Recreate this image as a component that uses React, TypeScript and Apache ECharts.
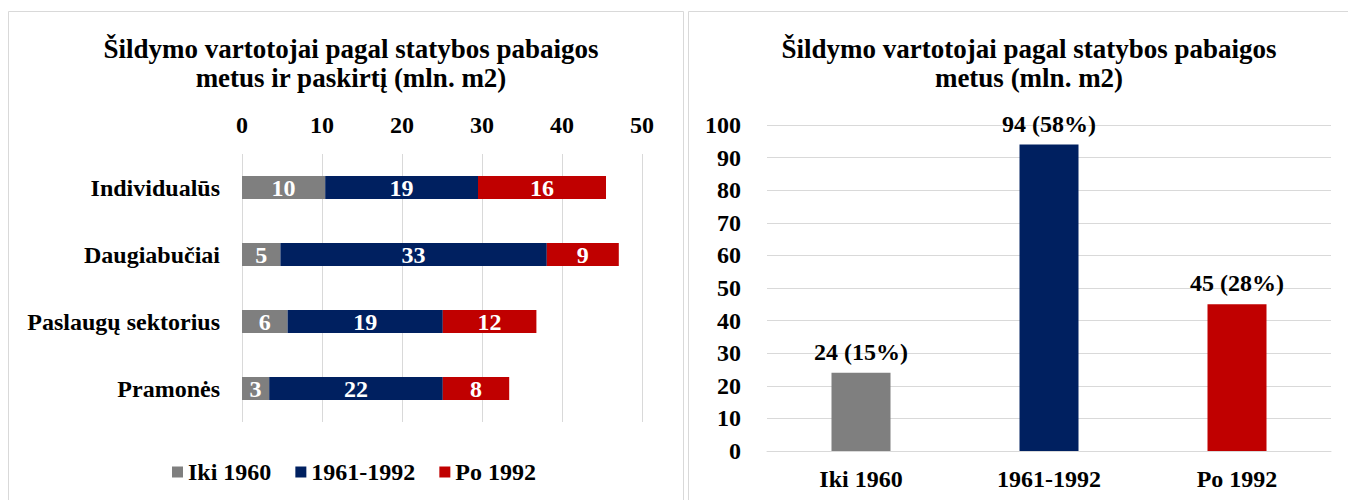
import React, { useEffect, useRef } from "react";
import * as echarts from "echarts";

const sectors = ["Individualūs", "Daugiabučiai", "Paslaugų sektorius", "Pramonės"];
const periods = ["Iki 1960", "1961-1992", "Po 1992"];
const iki1960 = [10.4, 4.8, 5.7, 3.4];
const p1961_1992 = [19.1, 33.3, 19.4, 21.7];
const po1992 = [16.0, 9.0, 11.7, 8.3];
const totals = [24, 94, 45];
const colors = ["#7f7f7f", "#002060", "#c00000"];
const xTicks = [0, 10, 20, 30, 40, 50];
const yTicks = [0, 10, 20, 30, 40, 50, 60, 70, 80, 90, 100];

const leftTitle = "Šildymo vartotojai pagal statybos pabaigos\nmetus ir paskirtį (mln. m2)";
const rightTitle = "Šildymo vartotojai pagal statybos pabaigos\nmetus (mln. m2)";

const FONT = "'Liberation Serif', 'Times New Roman', serif";

export default function App() {
  const ref = useRef<HTMLDivElement>(null);
  useEffect(() => {
    if (!ref.current) return;
    const chart = echarts.init(ref.current, undefined, { renderer: "svg" });
    const sum = totals.reduce((a, b) => a + b, 0);
    const txt = { fontFamily: FONT, fontWeight: "bold" as const, color: "#000", fontSize: 24 };
    const stackSeries = [iki1960, p1961_1992, po1992].map((d, i) => ({
      name: periods[i],
      type: "bar",
      stack: "s",
      xAxisIndex: 0,
      yAxisIndex: 0,
      barWidth: 23,
      data: d,
      itemStyle: { color: colors[i] },
      label: {
        show: true,
        position: "inside",
        formatter: (p: any) => String(Math.round(p.value)),
        fontFamily: FONT,
        fontWeight: "bold",
        fontSize: 24,
        color: "#fff",
      },
    }));
    chart.setOption({
      animation: false,
      backgroundColor: "#fff",
      textStyle: { fontFamily: FONT },
      title: [
        {
          text: leftTitle,
          left: 346,
          top: 29,
          textAlign: "center",
          textStyle: { ...txt, fontSize: 27, lineHeight: 29 },
        },
        {
          text: rightTitle,
          left: 1024,
          top: 29,
          textAlign: "center",
          textStyle: { ...txt, fontSize: 27, lineHeight: 29 },
        },
      ],
      legend: {
        data: periods,
        left: 172,
        top: 460,
        padding: 0,
        itemWidth: 11,
        itemHeight: 11,
        itemGap: 24,
        icon: "rect",
        textStyle: { ...txt, fontSize: 24 },
      },
      graphic: [
        {
          type: "rect",
          shape: { x: 8.5, y: 11.5, width: 675, height: 500 },
          style: { fill: "none", stroke: "#d9d9d9", lineWidth: 1 },
        },
        {
          type: "rect",
          shape: { x: 688.5, y: 11.5, width: 700, height: 500 },
          style: { fill: "none", stroke: "#d9d9d9", lineWidth: 1 },
        },
      ],
      grid: [
        { left: 242, top: 154, width: 400, height: 268 },
        { left: 767, top: 125, width: 564, height: 326 },
      ],
      xAxis: [
        {
          type: "value",
          gridIndex: 0,
          position: "top",
          min: xTicks[0],
          max: xTicks[xTicks.length - 1],
          interval: 10,
          axisLine: { show: false },
          axisTick: { show: false },
          axisLabel: { ...txt, margin: 17 },
          splitLine: { lineStyle: { color: "#d9d9d9", width: 1 } },
        },
        {
          type: "category",
          gridIndex: 1,
          data: periods,
          axisLine: { lineStyle: { color: "#d9d9d9", width: 1 } },
          axisTick: { show: false },
          axisLabel: { ...txt, margin: 16 },
        },
      ],
      yAxis: [
        {
          type: "category",
          gridIndex: 0,
          data: sectors,
          inverse: true,
          axisLine: { show: false },
          axisTick: { show: false },
          axisLabel: { ...txt, margin: 22 },
        },
        {
          type: "value",
          gridIndex: 1,
          min: yTicks[0],
          max: yTicks[yTicks.length - 1],
          interval: 10,
          axisLine: { show: false },
          axisTick: { show: false },
          axisLabel: { ...txt, margin: 26 },
          splitLine: { lineStyle: { color: "#d9d9d9", width: 1 } },
        },
      ],
      series: [
        ...stackSeries,
        {
          type: "bar",
          xAxisIndex: 1,
          yAxisIndex: 1,
          barWidth: 59,
          data: totals.map((v, i) => ({ value: v, itemStyle: { color: colors[i] } })),
          label: {
            show: true,
            position: "top",
            distance: 9,
            formatter: (p: any) => `${p.value} (${Math.round((p.value / sum) * 100)}%)`,
            ...txt,
          },
        },
      ],
    });
    return () => chart.dispose();
  }, []);
  return (
    <div
      ref={ref}
      style={{ position: "fixed", left: 0, top: 0, width: 1348, height: 500 }}
    />
  );
}
